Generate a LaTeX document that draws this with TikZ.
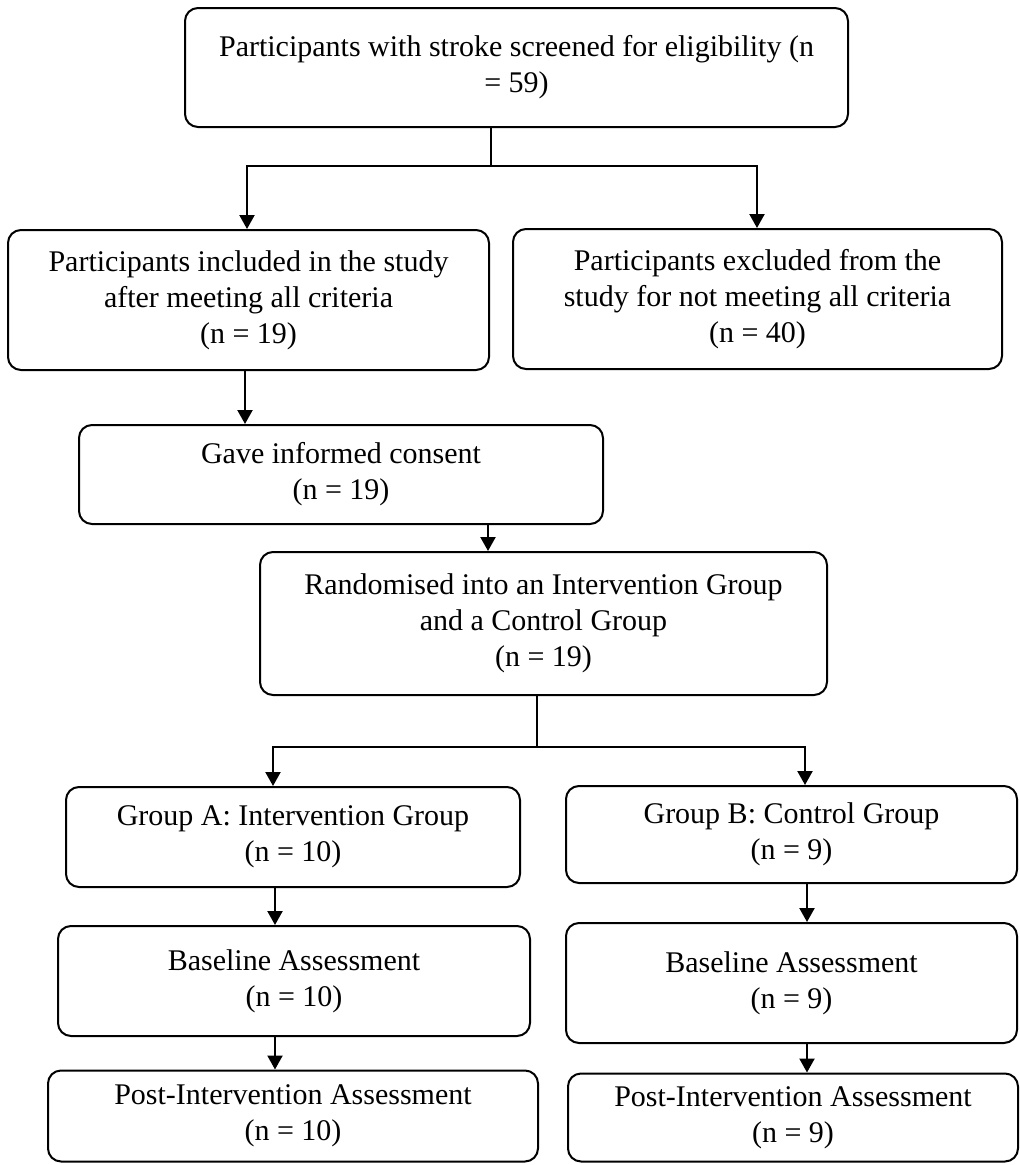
\documentclass[tikz,border=0pt]{standalone}
\usepackage{fontspec}
\setmainfont{Liberation Serif}
\usetikzlibrary{arrows.meta}
\begin{document}
\begin{tikzpicture}[x=1pt,y=-1pt,
  box/.style={draw=black, line width=2pt, rounded corners=13pt, rectangle,
    align=center, inner sep=0pt, font=\fontsize{30}{36}\selectfont},
  arr/.style={line width=2.2pt, -{Triangle[length=14pt,width=15pt]}},
  ln/.style={line width=2.2pt}]
\useasboundingbox (0,0) rectangle (1020,1165);
\fill[white] (0,0) rectangle (1020,1165);

\node[box, minimum width=663pt, minimum height=119pt] (b1) at (516.5,67.5)
  {Participants with stroke screened for eligibility (n\\= 59)};
\node[box, minimum width=481pt, minimum height=140pt] (b2) at (248.5,300)
  {Participants included in the study\\after meeting all criteria\\(n = 19)};
\node[box, minimum width=489pt, minimum height=140pt] (b3) at (757.5,299)
  {Participants excluded from the\\study for not meeting all criteria\\(n = 40)};
\node[box, minimum width=524pt, minimum height=99pt] (b4) at (341,474.5)
  {Gave informed consent\\(n = 19)};
\node[box, minimum width=567pt, minimum height=143pt] (b5) at (543.5,623.5)
  {Randomised into an Intervention Group\\and a Control Group\\(n = 19)};
\node[box, minimum width=454pt, minimum height=100pt] (b6) at (293,837)
  {Group A: Intervention Group\\(n = 10)};
\node[box, minimum width=451pt, minimum height=97pt] (b7) at (791.5,834.5)
  {Group B: Control Group\\(n = 9)};
\node[box, minimum width=472pt, minimum height=110pt] (b8) at (294,981)
  {Baseline Assessment\\(n = 10)};
\node[box, minimum width=451pt, minimum height=120pt] (b9) at (791.5,983)
  {Baseline Assessment\\(n = 9)};
\node[box, minimum width=490pt, minimum height=91pt] (b10) at (293,1116)
  {Post-Intervention Assessment\\(n = 10)};
\node[box, minimum width=450pt, minimum height=88pt] (b11) at (793,1117.5)
  {Post-Intervention Assessment\\(n = 9)};

% vertical guide coordinates
\coordinate (x491) at (491,166);
\coordinate (x247) at (247,166);
\coordinate (x757) at (757,166);
\coordinate (x245) at (245,0);
\coordinate (x488) at (488,0);
\coordinate (x537) at (537,747);
\coordinate (x273) at (273,747);
\coordinate (x805) at (805,747);
\coordinate (x275) at (275,0);
\coordinate (x807) at (807,0);

% first split
\draw[ln] (b1.south -| x491) -- (x491);
\draw[arr] (x491) -- (x247) -- (b2.north -| x247);
\draw[arr] (x491) -- (x757) -- (b3.north -| x757);

\draw[arr] (b2.south -| x245) -- (b4.north -| x245);
\draw[arr] (b4.south -| x488) -- (b5.north -| x488);

% second split
\draw[ln] (b5.south -| x537) -- (x537);
\draw[arr] (x537) -- (x273) -- (b6.north -| x273);
\draw[arr] (x537) -- (x805) -- (b7.north -| x805);

\draw[arr] (b6.south -| x275) -- (b8.north -| x275);
\draw[arr] (b7.south -| x807) -- (b9.north -| x807);
\draw[arr] (b8.south -| x275) -- (b10.north -| x275);
\draw[arr] (b9.south -| x807) -- (b11.north -| x807);
\end{tikzpicture}
\end{document}
